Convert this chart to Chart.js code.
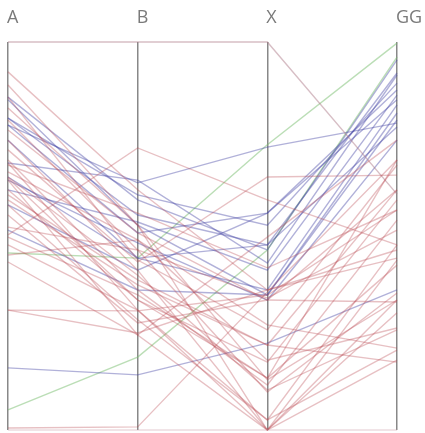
<!DOCTYPE html>
<html>
<head>
<meta charset="utf-8">
<script src="https://cdn.jsdelivr.net/npm/chart.js@4/dist/chart.umd.min.js"></script>
<style>
  html, body { margin: 0; padding: 0; background: #fff; }
  #wrap { width: 425px; height: 433px; }
</style>
</head>
<body>
<div id="wrap"><canvas id="chartParallel"></canvas></div>
<script>
// dimensions (parallel axes)
const axes = ['A', 'B', 'X', 'GG'];

// each row is one record, values on every axis (0 = bottom, 100 = top)
const blueLines = [
  [80.4, 55.4, 47.7, 92.0],
  [80.4, 60.6, 52.8, 89.4],
  [78.6, 50.8, 55.9, 85.1],
  [85.1, 52.8, 34.8, 81.7],
  [68.8, 64.4, 43.0, 91.5],
  [65.2, 44.3, 47.7, 78.1],
  [64.4, 48.2, 33.5, 74.7],
  [58.0, 41.2, 55.9, 87.6],
  [74.7, 44.3, 36.1, 83.8],
  [51.5, 36.1, 34.8, 79.9],
  [16.0, 14.2, 22.4, 36.1],
  [78.6, 63.7, 72.9, 79.1],
  [85.8, 59.3, 46.4, 95.4],
  [61.9, 53.6, 41.2, 86.3]
];
const greenLines = [
  [5.2, 18.8, 46.4, 96.1],
  [45.6, 44.3, 73.5, 99.7]
];
const grayLines = [
  [100, 100, 100, 60.8]
];
const redLines = [
  [92.3, 61.9, 36.1, 46.4],
  [88.9, 52.8, 12.9, 33.5],
  [85.8, 43.8, 25.8, 68.3],
  [69.6, 36.1, 11.6, 54.1],
  [68.8, 30.9, 0.0, 43.8],
  [65.2, 39.9, 10.3, 25.8],
  [64.4, 24.5, 0.0, 33.5],
  [64.9, 33.5, 17.5, 59.3],
  [50.3, 72.7, 59.3, 47.7],
  [58.0, 28.4, 2.6, 20.6],
  [52.3, 46.4, 34.0, 51.5],
  [49.7, 34.8, 13.4, 42.5],
  [30.9, 30.7, 34.8, 56.7],
  [30.9, 25.0, 36.1, 44.3],
  [0.5, 0.8, 35.6, 69.6],
  [74.7, 41.2, 0.0, 30.2],
  [59.3, 37.4, 21.9, 17.5],
  [45.1, 49.0, 27.1, 21.1],
  [79.9, 46.4, 9.8, 35.3],
  [68.3, 55.9, 41.8, 56.7],
  [61.9, 33.5, 13.4, 69.6],
  [55.4, 27.6, 33.5, 61.9],
  [66.5, 49.0, 18.0, 26.3],
  [47.7, 30.9, 2.6, 47.7],
  [77.3, 50.8, 33.5, 33.0],
  [72.2, 43.3, 65.2, 65.7],
  [43.3, 24.5, 49.7, 74.7],
  [83.0, 52.8, 0.0, 18.0],
  [60.6, 38.7, 21.9, 61.9]
];
const faintLines = [
  [0.0, 0.0, 0.0, 0.0]
];

function makeSets(rows, color) {
  return rows.map(r => ({
    data: r,
    borderColor: color,
    borderWidth: 1.4,
    pointRadius: 0,
    tension: 0,
    clip: false
  }));
}

const axisLabels = {
  id: 'axisLabels',
  afterDraw: chart => {
    const ctx = chart.ctx;
    const xs = chart.scales.x;
    ctx.save();
    ctx.fillStyle = '#7a7a7a';
    ctx.font = '18px "Open Sans", sans-serif';
    ctx.textAlign = 'left';
    ctx.textBaseline = 'middle';
    axes.forEach((a, i) => {
      ctx.fillText(a, xs.getPixelForValue(i) - 1, 18);
    });
    ctx.restore();
  }
};

const chartParallel = new Chart(document.getElementById('chartParallel'), {
  type: 'line',
  plugins: [axisLabels],
  data: {
    labels: axes,
    datasets: [
      ...makeSets(faintLines, 'rgba(200, 150, 160, 0.35)'),
      ...makeSets(redLines, 'rgba(185, 70, 80, 0.34)'),
      ...makeSets(grayLines, 'rgba(175, 125, 140, 0.5)'),
      ...makeSets(blueLines, 'rgba(70, 70, 165, 0.42)'),
      ...makeSets(greenLines, 'rgba(120, 190, 110, 0.5)')
    ]
  },
  options: {
    responsive: true,
    maintainAspectRatio: false,
    animation: false,
    events: [],
    layout: { padding: { left: 8, right: 28, top: 42, bottom: 3 } },
    plugins: { legend: { display: false }, tooltip: { enabled: false } },
    scales: {
      x: {
        offset: false,
        ticks: { display: false },
        border: { display: false },
        grid: { color: '#888888', lineWidth: 1.5, drawTicks: false, offset: false }
      },
      y: {
        display: false,
        min: 0,
        max: 100
      }
    }
  }
});
</script>
</body>
</html>
